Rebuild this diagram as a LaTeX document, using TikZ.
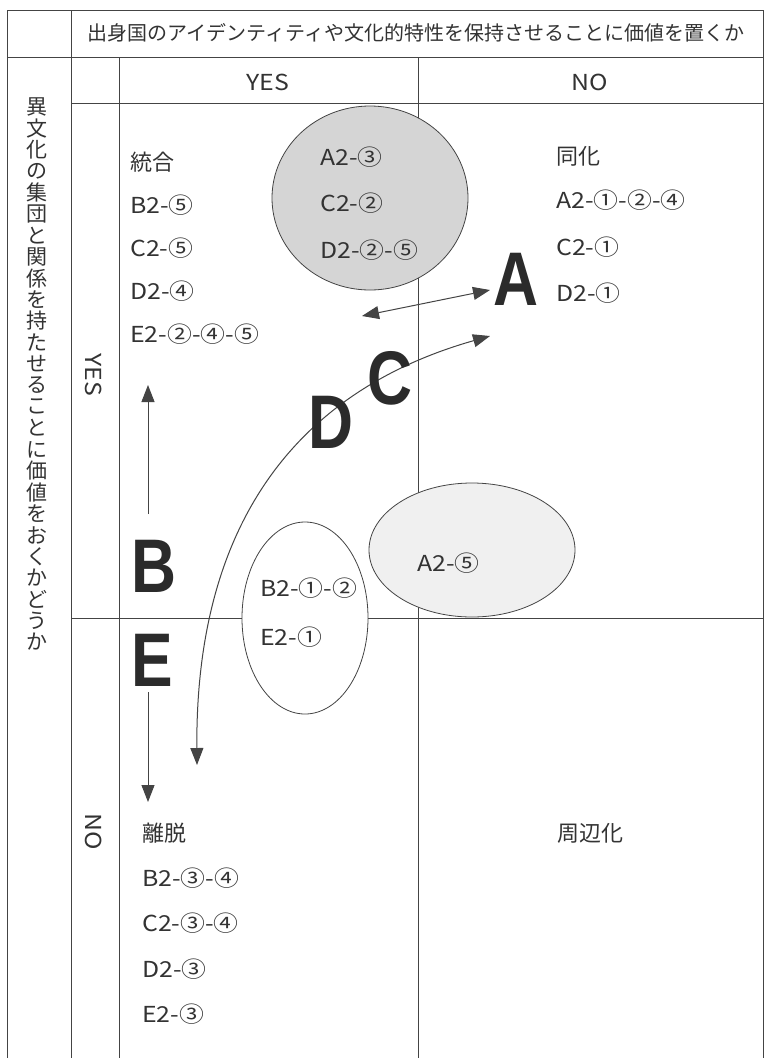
\documentclass[tikz,border=0pt]{standalone}
\usepackage{fontspec}
\setmainfont{Noto Sans CJK JP}
\newfontfamily\latinfont{Noto Sans CJK JP}[FakeStretch=1.13]
\newfontfamily\bigfont{Liberation Sans}
\usetikzlibrary{arrows.meta,shapes.geometric}
\definecolor{ink}{HTML}{333333}
\definecolor{lineink}{HTML}{444444}
\begin{document}
\begin{tikzpicture}[x=1pt,y=-1pt,
  grid/.style={draw=lineink, line width=0.9pt},
  lbl/.style={anchor=west, inner sep=0pt, text=ink, font=\fontsize{22}{22}\selectfont},
  lat/.style={lbl, font=\latinfont\fontsize{22}{22}\selectfont},
  ctr/.style={anchor=center, inner sep=0pt, text=ink, font=\fontsize{22}{22}\selectfont},
  latc/.style={ctr, font=\latinfont\fontsize{22}{22}\selectfont},
  hd/.style={anchor=center, inner sep=0pt, text=ink, font=\fontsize{20}{20}\selectfont},
  vt/.style={anchor=center, inner sep=0pt, text=ink, font=\fontsize{21}{21}\selectfont},
  big/.style={anchor=base west, inner sep=0pt, text=ink!85!black, font=\bigfont\bfseries\fontsize{76}{76}\selectfont},
  blob/.style={ellipse, draw=lineink, line width=0.8pt, inner sep=0pt},
  arr/.style={draw=lineink, line width=1pt, -{Triangle[length=17pt,width=13pt]}},
  darr/.style={draw=lineink, line width=1pt, {Triangle[length=17pt,width=13pt]}-{Triangle[length=17pt,width=13pt]}}
]
\useasboundingbox (0,0) rectangle (766,1058);
\fill[white] (0,0) rectangle (766,1058);
% grid
\draw[grid] (7,1058) -- (7,10) -- (763,10) -- (763,1058);
\draw[grid] (7,57) -- (763,57);
\draw[grid] (71,10) -- (71,1058);
\draw[grid] (119,57) -- (119,1058);
\draw[grid] (418,57) -- (418,1058);
\draw[grid] (71,103) -- (763,103);
\draw[grid] (71,618) -- (763,618);
% headers
\node[hd] (hdr) at (416,33) {出身国のアイデンティティや文化的特性を保持させることに価値を置くか};
\node[latc] (cyes) at (268,82) {YES};
\node[latc] (cno) at (590,82) {NO};
\node[latc, rotate=-90] (ryes) at (94,375) {YES};
\node[latc, rotate=-90] (rno) at (94,832) {NO};
\foreach \c [count=\i from 0] in {異,文,化,の,集,団,と,関,係,を,持,た,せ,る,こ,と,に,価,値,を,お,く,か,ど,う,か}
  \node[vt] (v\i) at (37,{107+21.4*\i}) {\c};
% ellipses
\node[blob, fill=gray!33, minimum width=196pt, minimum height=184pt] (e1) at (370,198) {};
\node[blob, fill=gray!12, minimum width=206pt, minimum height=134pt] (e2) at (472,550) {};
\node[blob, fill=white, minimum width=126pt, minimum height=192pt] (e3) at (305,618) {};
% quadrant texts
\node[lbl] (t1) at (130,162) {統合};
\node[lat] (t2) at (130,205) {B2-⑤};
\node[lat] (t3) at (130,248) {C2-⑤};
\node[lat] (t4) at (130,291) {D2-④};
\node[lat] (t5) at (130,334) {E2-②-④-⑤};
\node[lat] (g1) at (320,157) {A2-③};
\node[lat] (g2) at (320,203) {C2-②};
\node[lat] (g3) at (320,250) {D2-②-⑤};
\node[lbl] (s1) at (556,156) {同化};
\node[lat] (s2) at (556,200) {A2-①-②-④};
\node[lat] (s3) at (556,247) {C2-①};
\node[lat] (s4) at (556,293) {D2-①};
\node[lat] (a5) at (417,563) {A2-⑤};
\node[lat] (b12) at (260,588) {B2-①-②};
\node[lat] (e21) at (260,637) {E2-①};
\node[lbl] (r1) at (142,833) {離脱};
\node[lat] (r2) at (142,878) {B2-③-④};
\node[lat] (r3) at (142,923) {C2-③-④};
\node[lat] (r4) at (142,969) {D2-③};
\node[lat] (r5) at (142,1014) {E2-③};
\node[ctr] (mg) at (590,833) {周辺化};
% connectors
\coordinate (dl) at (362,316);
\coordinate (dr) at (490,290);
\coordinate (ct) at (490,336);
\coordinate (cb) at (197,765);
\coordinate (bu0) at (148,514);
\coordinate (bu1) at (148,385);
\coordinate (ed0) at (148,692);
\coordinate (ed1) at (148,802);
\draw[darr] (dl) -- (dr);
\draw[darr] (ct) .. controls (300,390) and (195,520) .. (cb);
\draw[arr] (bu0) -- (bu1);
\draw[arr] (ed0) -- (ed1);
% big letters
\node[big] (A) at (493,305) {\scalebox{0.82}[1]{A}};
\node[big] (C) at (367,404) {\scalebox{0.82}[1]{C}};
\node[big] (D) at (308,448) {\scalebox{0.82}[1]{D}};
\node[big] (B) at (131,592) {\scalebox{0.82}[1]{B}};
\node[big] (E) at (131,686) {\scalebox{0.82}[1]{E}};
\end{tikzpicture}
\end{document}
